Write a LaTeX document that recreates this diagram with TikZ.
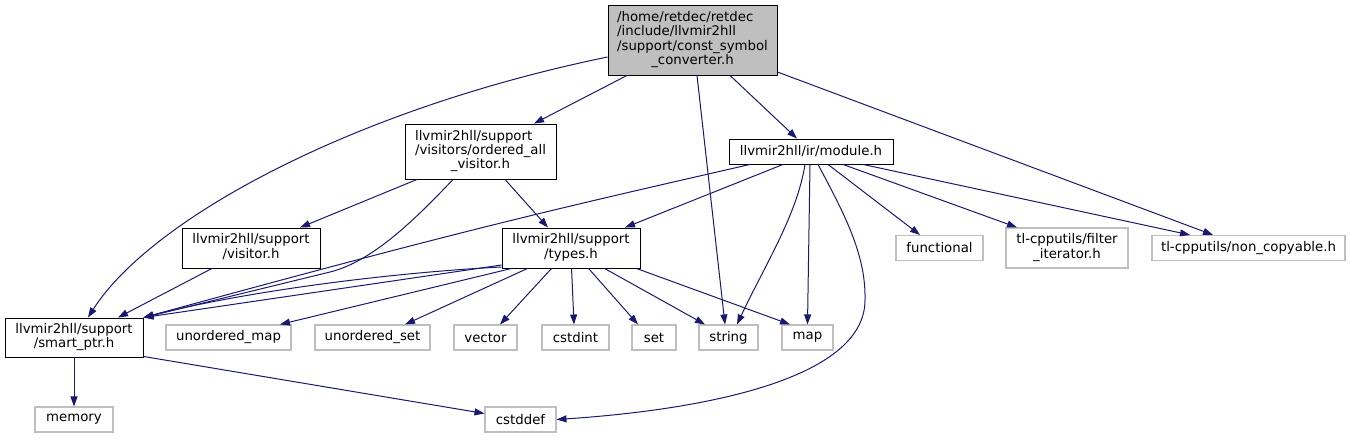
\documentclass[tikz,border=0pt]{standalone}
\usepackage{fontspec}
\setmainfont{DejaVu Sans}
\usepackage{xcolor}
\usepackage{tikz}
\usetikzlibrary{arrows.meta}
\definecolor{edgeblue}{RGB}{25, 25, 112}
\definecolor{boxgray}{RGB}{191, 191, 191}
\newcommand{\lastln}[1]{\multicolumn{1}{@{}c@{}}{#1}}
\tikzset{
  hdr/.style={draw=black,line width=0.9pt,inner sep=0pt,font=\fontsize{13.3}{14}\selectfont},
  sys/.style={draw=boxgray,line width=1.1pt,inner sep=0pt,minimum height=25pt,font=\fontsize{13.3}{14}\selectfont},
  incl/.style={edgeblue,line width=1pt,-{Triangle[length=10pt,width=7pt]}},
}

\begin{document}
\begin{tikzpicture}[x=1pt,y=-1pt]
\useasboundingbox (0,0) rectangle (1351,439);
% headers of the project
\node[hdr,fill=boxgray,minimum width=169pt,minimum height=70pt] (root) at (692.5,40) {\begin{tabular}{@{}l@{}}/home/retdec/retdec\\/include/llvmir2hll\\/support/const\_symbol\\\lastln{\_converter.h}\end{tabular}};
\node[hdr,minimum width=151pt,minimum height=55pt] (ordered) at (480.5,151.5) {\begin{tabular}{@{}l@{}}llvmir2hll/support\\/visitors/ordered\_all\\\lastln{\_visitor.h}\end{tabular}};
\node[hdr,minimum width=164pt,minimum height=25pt] (module) at (811,151.5) {llvmir2hll/ir/module.h};
\node[hdr,minimum width=138pt,minimum height=40pt] (visitor) at (251,248) {\begin{tabular}{@{}l@{}}llvmir2hll/support\\\lastln{/visitor.h}\end{tabular}};
\node[hdr,minimum width=138pt,minimum height=40pt] (types) at (571,248) {\begin{tabular}{@{}l@{}}llvmir2hll/support\\\lastln{/types.h}\end{tabular}};
\node[hdr,minimum width=138pt,minimum height=39pt] (smart) at (74,337.5) {\begin{tabular}{@{}l@{}}llvmir2hll/support\\\lastln{/smart\_ptr.h}\end{tabular}};
% system and external headers
\node[sys,minimum width=87pt] (functional) at (939.5,248) {functional};
\node[sys,minimum width=122pt,minimum height=40pt] (filter) at (1067,248) {\begin{tabular}{@{}l@{}}tl-cpputils/filter\\\lastln{\_iterator.h}\end{tabular}};
\node[sys,minimum width=193pt] (noncopy) at (1248.5,248) {tl-cpputils/non\_copyable.h};
\node[sys,minimum width=125pt] (umap) at (228.5,337.5) {unordered\_map};
\node[sys,minimum width=115pt] (uset) at (372.5,337.5) {unordered\_set};
\node[sys,minimum width=63pt] (vector) at (485.5,337.5) {vector};
\node[sys,minimum width=67pt] (cstdint) at (575.5,337.5) {cstdint};
\node[sys,minimum width=44pt] (set) at (654,337.5) {set};
\node[sys,minimum width=59pt] (string) at (728.5,337.5) {string};
\node[sys,minimum width=51pt] (map) at (807.5,337.5) {map};
\node[sys,minimum width=78pt] (memory) at (74,419.5) {memory};
\node[sys,minimum width=71pt] (cstddef) at (520.5,419.5) {cstddef};
% includes of the root file
\draw[incl] ([yshift=-17pt]root.west) .. controls (350,110) and (150,220) .. ([xshift=14pt]smart.north);
\draw[incl] ([xshift=-65.5pt]root.south) -- ([xshift=53.5pt]ordered.north);
\draw[incl] ([xshift=4.5pt]root.south) -- ([xshift=-3.5pt]string.north);
\draw[incl] ([xshift=37.5pt]root.south) -- ([xshift=-14pt]module.north);
\draw[incl] ([yshift=-32pt]root.east) -- ([xshift=-35.5pt]noncopy.north);
% ordered_all_visitor.h
\draw[incl] ([xshift=-63.5pt]ordered.south) -- ([xshift=49pt]visitor.north);
\draw[incl] ([xshift=-27.5pt]ordered.south) .. controls (410,225) and (370,262) .. (330,272) -- (smart.north east);
\draw[incl] ([xshift=24.5pt]ordered.south) -- ([xshift=-23pt]types.north);
% module.h
\draw[incl] ([xshift=-61pt]module.south) .. controls (560,208) and (470,228) .. (smart.north east);
\draw[incl] ([xshift=-28pt]module.south) -- ([xshift=54pt]types.north);
\draw[incl] ([xshift=-6pt]module.south) .. controls (797,215) and (765,265) .. ([xshift=8.5pt]string.north);
\draw[incl] ([xshift=-1pt]module.south) -- (map.north);
\draw[incl] ([xshift=7pt]module.south) .. controls (845,215) and (866,255) .. (865,300) .. controls (865,380) and (700,410) .. (cstddef.east);
\draw[incl] ([xshift=17pt]module.south) -- ([xshift=-19.5pt]functional.north);
\draw[incl] ([xshift=32pt]module.south) -- ([xshift=-50pt]filter.north);
\draw[incl] ([xshift=52pt]module.south) -- ([xshift=-58.5pt]noncopy.north);
% types.h
\draw[incl] ([yshift=-17pt]types.west) -- (smart.north east);
\draw[incl] ([yshift=-19pt]types.west) .. controls (400,272) and (250,290) .. (smart.north east);
\draw[incl] ([xshift=10pt]types.south west) -- ([xshift=51.5pt]umap.north);
\draw[incl] ([xshift=26pt]types.south west) -- ([xshift=32.5pt]uset.north);
\draw[incl] ([xshift=50pt]types.south west) -- ([xshift=14.5pt]vector.north);
\draw[incl] ([xshift=70pt]types.south west) -- ([xshift=-1.5pt]cstdint.north);
\draw[incl] ([xshift=87pt]types.south west) -- ([xshift=-16pt]set.north);
\draw[incl] ([xshift=103pt]types.south west) -- ([xshift=-23.5pt]string.north);
\draw[incl] ([xshift=-4pt]types.south east) -- ([xshift=-17.5pt]map.north);
% visitor.h and smart_ptr.h
\draw[incl] ([xshift=-39pt]visitor.south) -- ([xshift=44pt]smart.north);
\draw[incl] (smart.south) -- (memory.north);
\draw[incl] ([yshift=1pt]smart.south east) -- ([yshift=6pt]cstddef.west);
\end{tikzpicture}
\end{document}
